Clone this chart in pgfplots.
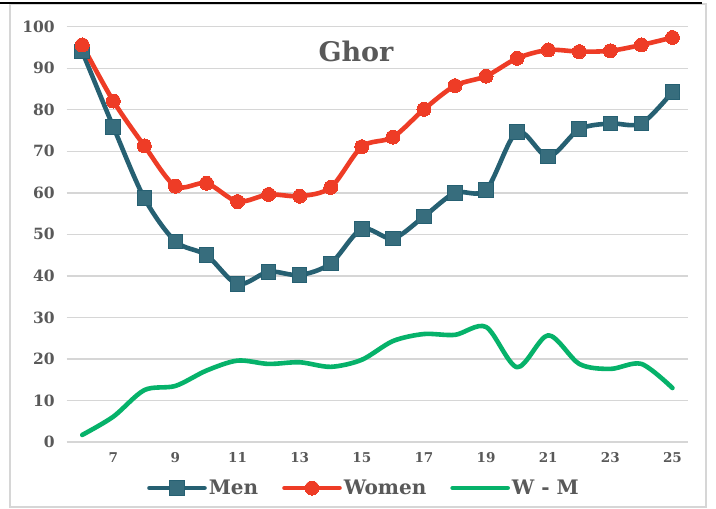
\documentclass[border=0pt]{standalone}
\usepackage{fontspec}
\setmainfont{DejaVu Serif}
\usepackage{pgfplots}
\pgfplotsset{compat=1.18}
\definecolor{men}{RGB}{38,96,114}
\definecolor{women}{RGB}{238,60,38}
\definecolor{wm}{RGB}{6,178,106}
\definecolor{txt}{RGB}{89,89,89}
\definecolor{gridc}{RGB}{214,214,214}
\begin{document}
\begin{tikzpicture}[x=1pt,y=1pt]
\path[use as bounding box] (0,0) rectangle (716,509);
\fill[white] (0,0) rectangle (716,509);
\draw[gridc, line width=1.3pt] (10,2) rectangle (706,505);
\draw[black, line width=1.2pt] (0,506) -- (702,506);
\begin{axis}[
  at={(66.7pt,67pt)}, anchor=south west,
  scale only axis, width=621.3pt, height=415.3pt,
  xmin=5.5, xmax=25.5, ymin=0, ymax=100,
  xtick={7,9,...,25}, ytick={0,10,...,100},
  ymajorgrids, grid style={gridc, line width=1.4pt},
  major tick length=0pt,
  axis line style={draw=none},
  clip=false,
  /pgf/number format/assume math mode=true,
  yticklabel style={font=\bfseries\fontsize{15.5}{16}\selectfont, text=txt, inner sep=0pt, xshift=-11.8pt},
  xticklabel style={font=\bfseries\fontsize{13.5}{14}\selectfont, text=txt, inner sep=0pt, yshift=-10.1pt},
  legend columns=3,
  legend style={at={(0.4785,-0.1108)}, anchor=center, draw=none, fill=none,
    font=\bfseries\fontsize{20}{22}\selectfont, text=txt,
    nodes={inner xsep=2pt, inner ysep=1pt},
    /tikz/every even column/.append style={column sep=22pt}},
  legend image code/.code={\draw[mark repeat=2,mark phase=2,#1] plot coordinates {(0pt,0pt) (27.5pt,0pt) (55pt,0pt)};},
  every axis plot/.append style={line cap=round, line join=round},
]
\addplot[men, line width=4.6pt, smooth, mark=square*, mark size=7.3pt, mark options={solid, line width=0pt, fill=men!92!white}] coordinates {
(6,94.0) (7,75.9) (8,58.7) (9,48.3) (10,45.0) (11,38.0) (12,41.0) (13,40.2) (14,43.0) (15,51.3)
(16,49.0) (17,54.3) (18,60.0) (19,60.7) (20,74.7) (21,68.7) (22,75.3) (23,76.7) (24,76.7) (25,84.3)};
\addlegendentry{Men}
\addplot[women, line width=4.6pt, smooth, mark=*, mark size=7pt, mark options={solid, line width=0pt, fill=women}] coordinates {
(6,95.6) (7,82.1) (8,71.3) (9,61.6) (10,62.3) (11,57.9) (12,59.6) (13,59.2) (14,61.3) (15,71.1)
(16,73.4) (17,80.1) (18,85.8) (19,88.1) (20,92.4) (21,94.4) (22,94.0) (23,94.2) (24,95.6) (25,97.4)};
\addlegendentry{Women}
\addplot[wm, line width=4.6pt, smooth, no marks] coordinates {
(6,1.7) (7,6.1) (8,12.5) (9,13.5) (10,17.2) (11,19.6) (12,18.8) (13,19.2) (14,18.1) (15,19.8)
(16,24.3) (17,26.0) (18,25.8) (19,27.7) (20,18.0) (21,25.7) (22,18.8) (23,17.6) (24,18.8) (25,13.0)};
\addlegendentry{W - M}
\end{axis}
\node[font=\bfseries\fontsize{27}{30}\selectfont, text=txt] at (356,458) {Ghor};
\end{tikzpicture}
\end{document}
